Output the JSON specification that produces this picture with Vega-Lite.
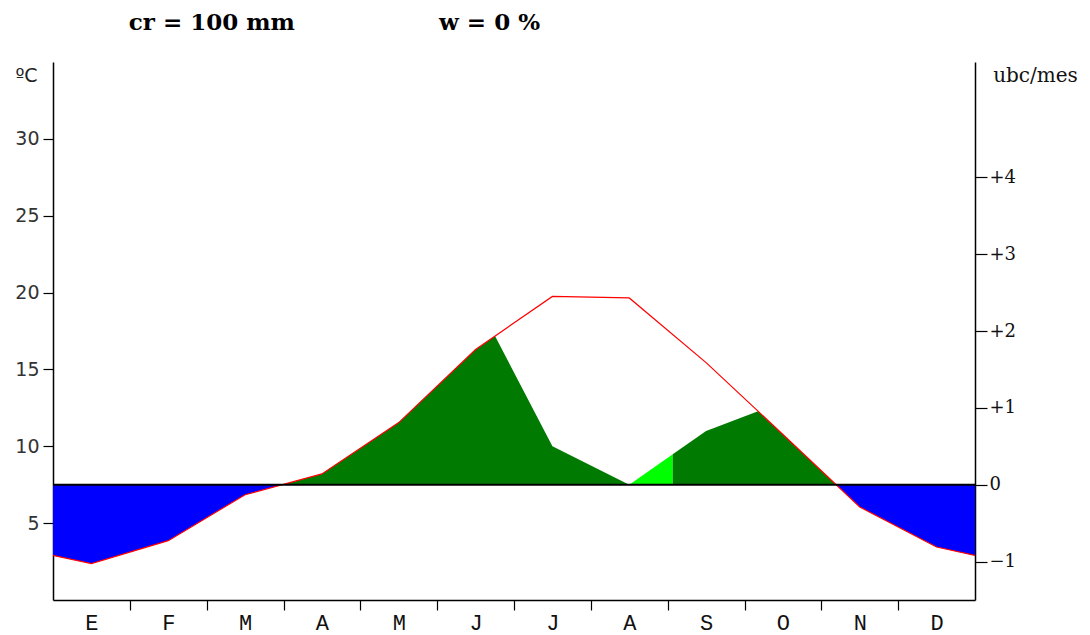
{
  "$schema": "https://vega.github.io/schema/vega-lite/v6.json",
  "width": 922,
  "height": 538,
  "autosize": {"type": "none"},
  "padding": {"left": 53, "top": 62, "right": 115, "bottom": 35},
  "background": "white",
  "config": {
    "view": {"stroke": null},
    "axis": {"grid": false, "domainColor": "black", "tickColor": "black", "labelColor": "#111", "domainWidth": 1.5, "tickWidth": 1.2}
  },
  "title": {
    "text": "cr = 100 mm\u00a0\u00a0\u00a0\u00a0\u00a0\u00a0\u00a0\u00a0\u00a0\u00a0\u00a0\u00a0\u00a0\u00a0\u00a0\u00a0\u00a0\u00a0w = 0 %",
    "anchor": "start",
    "dx": 114,
    "offset": 9,
    "baseline": "alphabetic",
    "font": "DejaVu Serif",
    "fontSize": 23,
    "fontWeight": "bold",
    "color": "black"
  },
  "datasets": {
    "clim": [
      {"s": "T", "m": 0, "t": 2.9},
      {"s": "T", "m": 0.5, "t": 2.37},
      {"s": "T", "m": 1.5, "t": 3.86},
      {"s": "T", "m": 2.5, "t": 6.85},
      {"s": "T", "m": 3.5, "t": 8.2},
      {"s": "T", "m": 4.5, "t": 11.54},
      {"s": "T", "m": 5.5, "t": 16.3},
      {"s": "T", "m": 6.5, "t": 19.75},
      {"s": "T", "m": 7.5, "t": 19.65},
      {"s": "T", "m": 8.5, "t": 15.44},
      {"s": "T", "m": 9.5, "t": 10.77},
      {"s": "T", "m": 10.5, "t": 6.05},
      {"s": "T", "m": 11.5, "t": 3.45},
      {"s": "T", "m": 12, "t": 2.9},
      {"s": "blueL", "m": 0, "t": 2.9},
      {"s": "blueL", "m": 0.5, "t": 2.37},
      {"s": "blueL", "m": 1.5, "t": 3.86},
      {"s": "blueL", "m": 2.5, "t": 6.85},
      {"s": "blueL", "m": 2.981, "t": 7.5},
      {"s": "blueR", "m": 10.193, "t": 7.5},
      {"s": "blueR", "m": 10.5, "t": 6.05},
      {"s": "blueR", "m": 11.5, "t": 3.45},
      {"s": "blueR", "m": 12, "t": 2.9},
      {"s": "green1", "m": 2.981, "t": 7.5},
      {"s": "green1", "m": 3.5, "t": 8.2},
      {"s": "green1", "m": 4.5, "t": 11.54},
      {"s": "green1", "m": 5.5, "t": 16.3},
      {"s": "green1", "m": 5.753, "t": 17.17},
      {"s": "green1", "m": 6.5, "t": 10.0},
      {"s": "green1", "m": 7.5, "t": 7.5},
      {"s": "light", "m": 7.5, "t": 7.5},
      {"s": "light", "m": 8.066, "t": 9.48},
      {"s": "green2", "m": 8.066, "t": 9.48},
      {"s": "green2", "m": 8.5, "t": 11.0},
      {"s": "green2", "m": 9.176, "t": 12.28},
      {"s": "green2", "m": 9.5, "t": 10.77},
      {"s": "green2", "m": 10.193, "t": 7.5}
    ],
    "zero": [{"ubc": 0}]
  },
  "layer": [
    {
      "data": {"name": "clim"},
      "encoding": {
        "x": {
          "field": "m",
          "type": "quantitative",
          "scale": {"domain": [0, 12], "nice": false, "zero": false},
          "axis": {
            "values": [0.5, 1, 1.5, 2, 2.5, 3, 3.5, 4, 4.5, 5, 5.5, 6, 6.5, 7, 7.5, 8, 8.5, 9, 9.5, 10, 10.5, 11, 11.5],
            "title": null,
            "tickSize": 10,
            "tickOpacity": {"condition": {"test": "datum.value % 1 !== 0", "value": 0}, "value": 1},
            "labelExpr": "datum.value % 1 === 0.5 ? ['E','F','M','A','M','J','J','A','S','O','N','D'][floor(datum.value)] : ''",
            "labelFont": "Liberation Mono",
            "labelFontSize": 22,
            "labelColor": "#111",
            "labelPadding": 2,
            "labelOverlap": false,
            "labelFlush": false,
            "labelBound": false
          }
        },
        "y": {
          "field": "t",
          "type": "quantitative",
          "scale": {"domain": [0, 35], "nice": false, "zero": false},
          "axis": {
            "values": [5, 10, 15, 20, 25, 30],
            "title": "ºC",
            "titleAngle": 0,
            "titleX": -27,
            "titleY": 13,
            "titleAlign": "center",
            "titleBaseline": "middle",
            "titleFont": "DejaVu Sans",
            "titleFontSize": 19,
            "titleFontWeight": "normal",
            "titleColor": "#222",
            "tickSize": 10,
            "labelPadding": 4,
            "labelFont": "DejaVu Sans",
            "labelFontSize": 19,
            "labelColor": "#333"
          }
        }
      },
      "layer": [
        {"transform": [{"filter": "datum.s === 'blueL'"}], "mark": {"type": "area", "orient": "vertical", "color": "#0000ff"}, "encoding": {"y2": {"datum": 7.5}}},
        {"transform": [{"filter": "datum.s === 'blueR'"}], "mark": {"type": "area", "orient": "vertical", "color": "#0000ff"}, "encoding": {"y2": {"datum": 7.5}}},
        {"transform": [{"filter": "datum.s === 'green1'"}], "mark": {"type": "area", "orient": "vertical", "color": "#007a00"}, "encoding": {"y2": {"datum": 7.5}}},
        {"transform": [{"filter": "datum.s === 'light'"}], "mark": {"type": "area", "orient": "vertical", "color": "#00ff00"}, "encoding": {"y2": {"datum": 7.5}}},
        {"transform": [{"filter": "datum.s === 'green2'"}], "mark": {"type": "area", "orient": "vertical", "color": "#007a00"}, "encoding": {"y2": {"datum": 7.5}}},
        {"transform": [{"filter": "datum.s === 'T'"}], "mark": {"type": "line", "color": "#ff0000", "strokeWidth": 1.2}}
      ]
    },
    {
      "data": {"name": "zero"},
      "mark": {"type": "rule", "color": "black", "strokeWidth": 2},
      "encoding": {
        "y": {
          "field": "ubc",
          "type": "quantitative",
          "scale": {"domain": [-1.5, 5.5], "nice": false, "zero": false},
          "axis": {
            "orient": "right",
            "values": [-1, 0, 1, 2, 3, 4],
            "labelExpr": "datum.value > 0 ? '+' + datum.value : (datum.value < 0 ? '\u2212' + (-datum.value) : '\u00a00')",
            "title": "ubc/mes",
            "titleAngle": 0,
            "titleX": 60,
            "titleY": 13,
            "titleAlign": "center",
            "titleBaseline": "middle",
            "titleFont": "DejaVu Serif",
            "titleFontSize": 20,
            "titleFontWeight": "normal",
            "titleColor": "#111",
            "tickSize": 12,
            "labelPadding": 2,
            "labelFont": "DejaVu Serif",
            "labelFontSize": 18
          }
        }
      }
    }
  ],
  "resolve": {"scale": {"y": "independent"}}
}
